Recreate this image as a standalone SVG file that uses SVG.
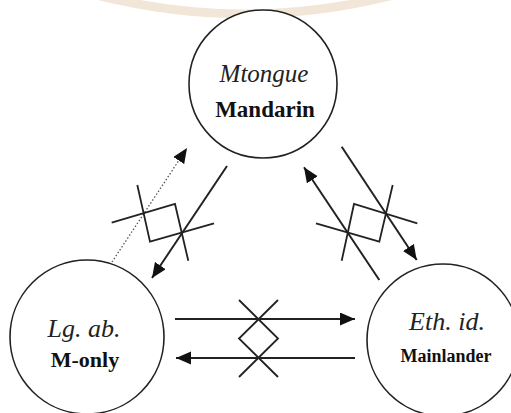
<svg xmlns="http://www.w3.org/2000/svg" width="511" height="413" viewBox="0 0 511 413">
<style>
.node{fill:#fff;stroke:#222;stroke-width:1.6}
.it{font-family:'Liberation Serif',serif;font-style:italic;fill:#222;text-anchor:middle}
.bd{font-family:'Liberation Serif',serif;font-weight:bold;fill:#111;text-anchor:middle}
.arr{fill:none;stroke:#222;stroke-width:2;marker-end:url(#ah)}
.dot{fill:none;stroke:#555;stroke-width:1.3;stroke-dasharray:1.5 2;marker-end:url(#ah)}
.zz{fill:none;stroke:#222;stroke-width:1.8;stroke-linejoin:miter}
</style>
<defs>
<marker id="ah" markerUnits="userSpaceOnUse" markerWidth="16" markerHeight="14" refX="15" refY="6.5" orient="auto">
<path d="M0,0 L15,6.5 L0,13 z" fill="#111"/>
</marker>
</defs>
<rect width="511" height="413" fill="#fff"/>
<path d="M100 -4 Q 245 32 390 -4" fill="none" stroke="#f2e6d8" stroke-width="9"/>
<g id="node-mtongue">
<circle class="node" cx="263" cy="84" r="74"/>
<text class="it" x="264" y="82" font-size="25">Mtongue</text>
<text class="bd" x="265" y="117" font-size="23">Mandarin</text>
</g>
<g id="node-lgab">
<circle class="node" cx="87" cy="337" r="77"/>
<text class="it" x="84" y="337" font-size="26">Lg. ab.</text>
<text class="bd" x="85" y="367" font-size="22">M-only</text>
</g>
<g id="node-ethid">
<circle class="node" cx="443" cy="340" r="76"/>
<text class="it" x="447" y="330" font-size="26">Eth. id.</text>
<text class="bd" x="446" y="362" font-size="18">Mainlander</text>
</g>
<g id="connectors">
<path class="dot" d="M112,262 L187,148"/>
<path class="arr" d="M227,166 L152,278"/>
<path class="zz" d="M111.7,222.7 L175,204 L188.3,260.7"/>
<path class="zz" d="M137.3,185 L150,241.7 L214,223.3"/>
<path class="arr" d="M379.3,280 L304,167.3"/>
<path class="arr" d="M341.7,146.7 L416.7,260"/>
<path class="zz" d="M316,223.3 L379.3,241.7 L392.7,185"/>
<path class="zz" d="M341.7,260.7 L354,204 L417.3,223.3"/>
<path class="arr" d="M175,319 L355,319"/>
<path class="arr" d="M355,358 L176,358"/>
<path class="zz" d="M239,300 L278,338.5 L239,377"/>
<path class="zz" d="M278,300 L239,338.5 L278,377"/>
</g>
</svg>
